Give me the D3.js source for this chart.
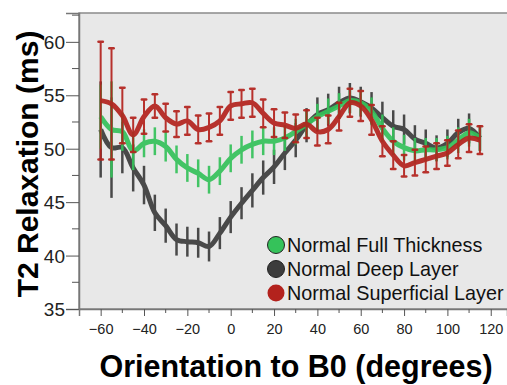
<!doctype html>
<html lang="en">
<head>
<meta charset="utf-8">
<title>T2 Relaxation</title>
<script src="https://d3js.org/d3.v7.min.js"></script>
<style>
    body { margin: 0; background: #fff; }
    svg { display: block; font-family: "Liberation Sans", Arial, sans-serif; }
</style>
</head>
<body>
<script>
    // orientation angles (degrees)
    const angles = [-60, -55, -50, -45, -40, -35, -30, -25, -20, -15, -10, -5, 0, 5, 10, 15, 20, 25,
        30, 35, 40, 45, 50, 55, 60, 65, 70, 75, 80, 85, 90, 95, 100, 105, 110, 115]

    const fullThickness = [53.0, 51.8, 51.6, 49.8, 50.5, 50.7, 50.2, 49.0, 48.2, 47.7, 47.1, 47.9, 49.1, 49.9, 50.4, 50.7, 50.7, 51.0,
        51.6, 52.3, 53.0, 53.5, 54.0, 54.5, 54.3, 53.5, 51.9, 50.7, 50.1, 49.8, 49.9, 49.9, 50.1, 50.8, 51.5, 51.0]
    const fullThicknessErr = [3.0, 4.5, 1.8, 1.8, 1.3, 1.3, 1.4, 1.3, 1.3, 1.3, 1.3, 1.3, 1.3, 1.3, 1.3, 1.3, 1.3, 1.2,
        1.2, 1.2, 1.2, 1.2, 1.2, 1.2, 1.2, 1.3, 1.3, 1.3, 1.2, 1.2, 1.1, 1.1, 1.1, 1.2, 1.3, 1.2]

    const deepLayer = [51.8, 50.1, 50.1, 48.2, 46.6, 44.0, 42.8, 41.5, 41.3, 41.2, 40.85, 42.1, 43.6, 44.9, 46.1, 47.3, 48.3, 49.6,
        50.8, 52.2, 53.2, 53.65, 54.3, 54.75, 54.4, 53.8, 52.9, 52.1, 51.8, 50.9, 50.5, 50.05, 50.5, 51.5, 51.9, 51.0]
    const deepLayerErr = [4.5, 4.7, 2.4, 2.2, 1.8, 1.7, 1.6, 1.5, 1.4, 1.4, 1.4, 1.5, 1.5, 1.5, 1.6, 1.6, 1.6, 1.6,
        1.6, 1.6, 1.6, 1.5, 1.5, 1.4, 1.4, 1.5, 1.5, 1.5, 1.4, 1.3, 1.3, 1.2, 1.3, 1.3, 1.4, 1.2]

    const superficial = [54.5, 54.2, 53.1, 51.3, 53.0, 54.0, 52.9, 52.3, 52.6, 51.8, 52.0, 52.6, 54.0, 54.2, 54.3, 53.3, 52.4, 52.2,
        51.9, 52.3, 51.6, 51.8, 53.0, 54.3, 54.0, 52.7, 50.7, 49.4, 48.4, 48.7, 49.0, 49.3, 49.6, 50.4, 51.0, 50.8]
    const superficialErr = [5.5, 5.2, 2.6, 1.6, 1.6, 1.1, 1.3, 1.2, 1.3, 1.3, 1.3, 1.3, 1.3, 1.3, 1.3, 1.3, 1.3, 1.2,
        1.3, 1.3, 1.3, 1.3, 1.3, 1.3, 1.4, 1.4, 1.4, 1.3, 1.0, 1.2, 1.2, 1.2, 1.2, 1.3, 1.3, 1.3]

    const seriesNames = ["Normal Full Thickness", "Normal Deep Layer", "Normal Superficial Layer"]
    const yTicks = [35, 40, 45, 50, 55, 60]
    const xTicks = [-60, -40, -20, 0, 20, 40, 60, 80, 100, 120]

    let width = 507
    let height = 385
    let margin = { left: 79, top: 13, right: 0, bottom: 76 }

    let x = d3.scaleLinear().domain([-70, 127.5]).range([margin.left, width - margin.right])
    let y = d3.scaleLinear().domain([35, 62.7]).range([height - margin.bottom, margin.top])

    const svg = d3.select("body").append("svg")
        .attr("width", width)
        .attr("height", height)

    // plot background
    svg.append("rect")
        .attr("x", x.range()[0]).attr("y", y.range()[1])
        .attr("width", x.range()[1] - x.range()[0] + 2)
        .attr("height", y.range()[0] - y.range()[1])
        .attr("fill", "#e8e8e8")
        .attr("stroke", "#8a8a8a")
        .attr("stroke-width", 1.5)

    // y axis
    const yAxis = svg.append("g")
        .attr("transform", `translate(${margin.left},0)`)
        .call(d3.axisLeft(y).tickValues(yTicks).tickSize(13).tickPadding(1))
    yAxis.selectAll("text").attr("font-size", 19).attr("fill", "#222").attr("dy", "0.35em")
    yAxis.append("g").selectAll("line")
        .data(yTicks.map(v => v + 2.5))
        .join("line")
        .attr("x1", -7).attr("x2", 0)
        .attr("y1", d => y(d)).attr("y2", d => y(d))
        .attr("stroke", "#555")
    yAxis.select(".domain").attr("stroke", "#777").attr("stroke-width", 1.5)
    yAxis.selectAll(".tick line").attr("stroke", "#555")

    // x axis
    const xAxis = svg.append("g")
        .attr("transform", `translate(0,${height - margin.bottom})`)
        .call(d3.axisBottom(x).tickValues(xTicks).tickSize(7).tickPadding(8))
    xAxis.selectAll("text").attr("font-size", 14.5).attr("fill", "#222")
    xAxis.append("g").selectAll("line")
        .data(xTicks.map(v => v + 10))
        .join("line")
        .attr("x1", d => x(d)).attr("x2", d => x(d))
        .attr("y1", 0).attr("y2", 4)
        .attr("stroke", "#555")
    xAxis.select(".domain").attr("stroke", "#777").attr("stroke-width", 1.5)
    xAxis.selectAll(".tick line").attr("stroke", "#555")

    // series
    const series = [
        { name: seriesNames[1], values: deepLayer, err: deepLayerErr, color: "#3c3c3c", caps: false },
        { name: seriesNames[0], values: fullThickness, err: fullThicknessErr, color: "#35c25a", caps: false },
        { name: seriesNames[2], values: superficial, err: superficialErr, color: "#b3221d", caps: true }
    ]

    let line = d3.line()
        .x(d => x(d.a))
        .y(d => y(d.v))
        .curve(d3.curveCatmullRom.alpha(0.5))

    for (let s of series) {
        let pts = angles.map((a, i) => ({ a: a, v: s.values[i], e: s.err[i] }))
        const g = svg.append("g").attr("opacity", 0.92)

        g.selectAll(".bar")
            .data(pts)
            .join("line")
            .attr("x1", d => x(d.a)).attr("x2", d => x(d.a))
            .attr("y1", d => y(d.v - d.e)).attr("y2", d => y(d.v + d.e))
            .attr("stroke", s.color)
            .attr("stroke-width", s.caps ? 2 : 2.5)

        if (s.caps) {
            for (let end of [-1, 1]) {
                g.selectAll(".cap" + end)
                    .data(pts)
                    .join("line")
                    .attr("x1", d => x(d.a) - 2.2).attr("x2", d => x(d.a) + 2.2)
                    .attr("y1", d => y(d.v + end * d.e)).attr("y2", d => y(d.v + end * d.e))
                    .attr("stroke", s.color)
                    .attr("stroke-width", 2.5)
                    .attr("stroke-linecap", "round")
            }
        }

        g.append("path")
            .datum(pts)
            .attr("d", line)
            .attr("fill", "none")
            .attr("stroke", s.color)
            .attr("stroke-width", 5)
            .attr("stroke-linejoin", "round")
    }

    // legend
    const legendColors = ["#35c25a", "#3c3c3c", "#b3221d"]
    const legend = svg.append("g")
    seriesNames.forEach((name, i) => {
        let ly = 245 + i * 24
        legend.append("circle")
            .attr("cx", 276).attr("cy", ly).attr("r", 8.5)
            .attr("fill", legendColors[i])
            .attr("stroke", i < 2 ? "#222" : "none")
            .attr("stroke-width", 1)
        legend.append("text")
            .attr("x", 287).attr("y", ly + 6.5)
            .attr("font-size", 19.8)
            .attr("fill", "#111")
            .text(name)
    })

    // axis titles
    svg.append("text")
        .attr("transform", `translate(38,${(y.range()[0] + y.range()[1]) / 2 + 3}) rotate(-90)`)
        .attr("text-anchor", "middle")
        .attr("font-size", 30)
        .attr("font-weight", "bold")
        .attr("fill", "#000")
        .text("T2 Relaxation (ms)")

    svg.append("text")
        .attr("x", 296).attr("y", 377)
        .attr("text-anchor", "middle")
        .attr("font-size", 30.5)
        .attr("font-weight", "bold")
        .attr("fill", "#000")
        .text("Orientation to B0 (degrees)")
</script>
</body>
</html>
